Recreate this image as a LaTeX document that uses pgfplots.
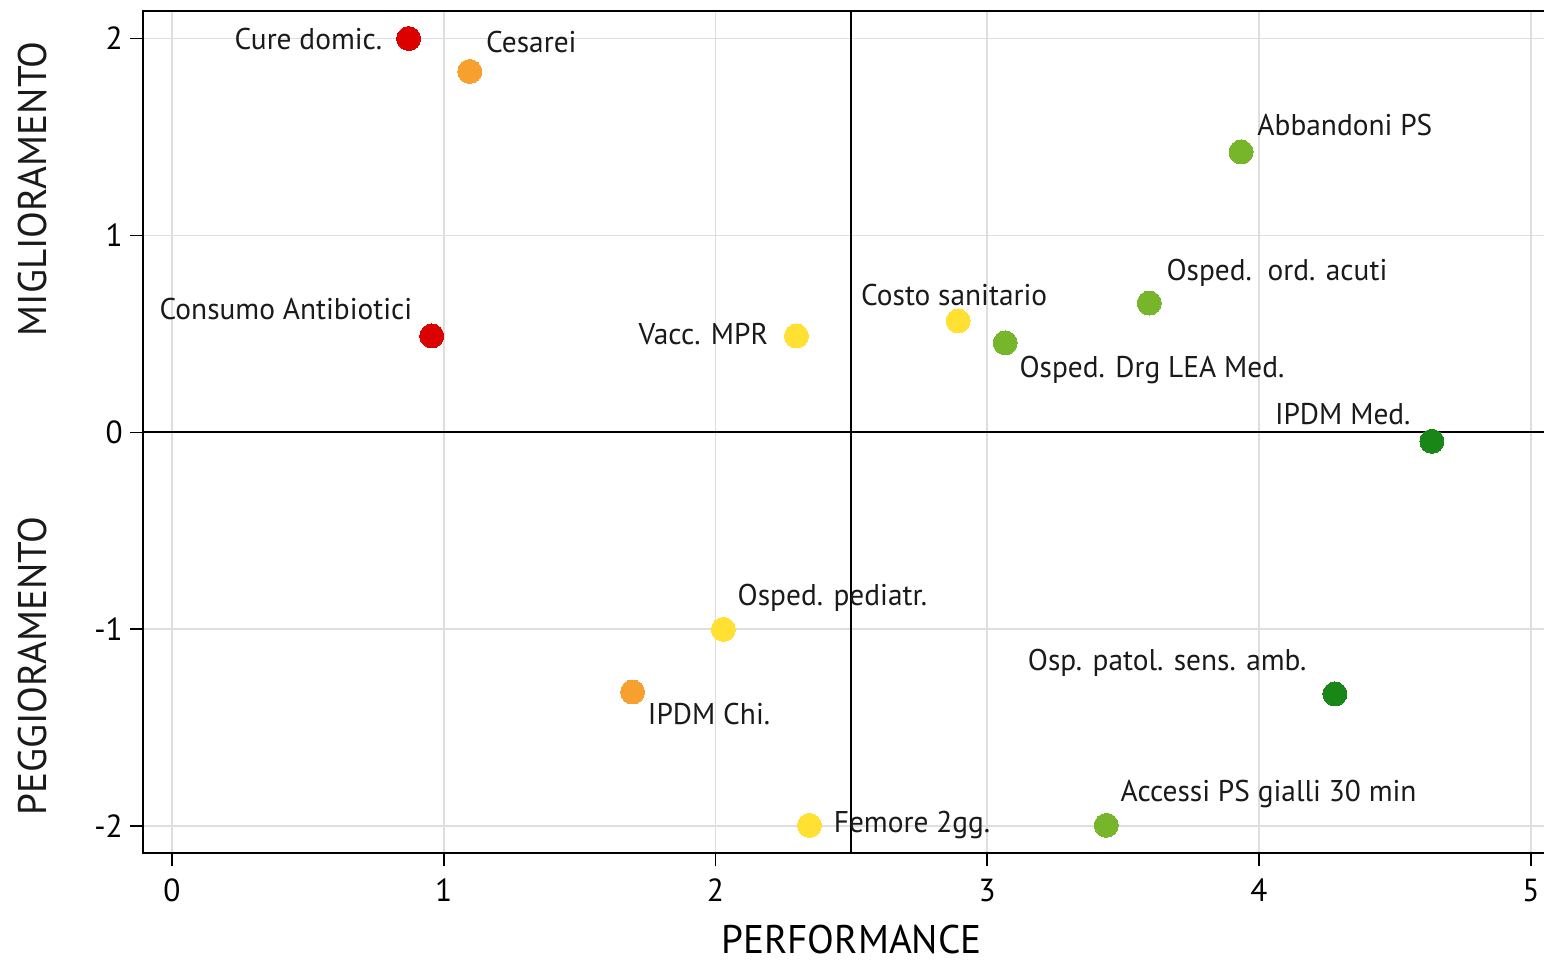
\documentclass[border=0pt]{standalone}
\usepackage{fontspec}
\setmainfont{PT Sans}[FakeStretch=0.98]
\usepackage{pgfplots}
\pgfplotsset{compat=1.18}
\definecolor{cred}{HTML}{DD0000}
\definecolor{corange}{HTML}{F7A030}
\definecolor{cyellow}{HTML}{FFE033}
\definecolor{clgreen}{HTML}{77B52A}
\definecolor{cdgreen}{HTML}{1A8618}
\definecolor{txt}{HTML}{1A1A1A}
\begin{document}
\begin{tikzpicture}
\begin{axis}[
  scale only axis,
  width=701.5pt, height=421.5pt,
  xmin=-0.107, xmax=5.05, ymin=-2.136, ymax=2.14,
  xtick={0,1,2,3,4,5}, ytick={-2,-1,0,1,2},
  grid=major,
  grid style={draw=black!13, line width=0.9pt},
  axis line style={draw=none},
  tick style={black, line width=0.9pt},
  tick align=outside,
  major tick length=6.5pt,
  xtick pos=bottom, ytick pos=left,
  /pgf/number format/assume math mode=true,
  ticklabel style={font=\fontsize{16}{18}\selectfont},
  xticklabel style={yshift=-3pt},
  xlabel={PERFORMANCE},
  xlabel style={font=\fontsize{20}{22}\selectfont, yshift=-4.5pt, xshift=4pt},
  clip=false,
  mkr/.style={only marks, mark=*, mark size=6pt, color=#1, mark options={solid, draw=#1, fill=#1, line width=0pt}},
]
\draw[black, line width=1.2pt] (rel axis cs:1,1) -- (rel axis cs:0,1) -- (rel axis cs:0,0) -- (rel axis cs:1,0);
\draw[black, line width=1pt] (axis cs:2.5,-2.136) -- (axis cs:2.5,2.14);
\draw[black, line width=1pt] (axis cs:-0.107,0) -- (axis cs:5.05,0);
\tikzset{lbl/.style={font=\fontsize{15}{17}\selectfont, text=txt, inner sep=0pt}}
\addplot[mkr=cred] coordinates {(0.871,2.0)} node[lbl, anchor=east, xshift=-13pt] {Cure domic.};
\addplot[mkr=corange] coordinates {(1.096,1.833)} node[lbl, anchor=west, xshift=8pt, yshift=14.5pt] {Cesarei};
\addplot[mkr=clgreen] coordinates {(3.934,1.424)} node[lbl, anchor=west, xshift=8pt, yshift=13.5pt] {Abbandoni PS};
\addplot[mkr=cred] coordinates {(0.956,0.49)} node[lbl, anchor=east, xshift=-9.5pt, yshift=13.5pt] {Consumo Antibiotici};
\addplot[mkr=cyellow] coordinates {(2.298,0.49)} node[lbl, anchor=east, xshift=-14pt, yshift=1pt] {Vacc. MPR};
\addplot[mkr=cyellow] coordinates {(2.893,0.566)} node[lbl, anchor=center, xshift=-2pt, yshift=13pt] {Costo sanitario};
\addplot[mkr=clgreen] coordinates {(3.066,0.455)} node[lbl, anchor=west, xshift=7pt, yshift=-13.5pt] {Osped. Drg LEA Med.};
\addplot[mkr=clgreen] coordinates {(3.596,0.657)} node[lbl, anchor=west, xshift=8.5pt, yshift=15pt] {Osped.\ \ ord. acuti};
\addplot[mkr=cdgreen] coordinates {(4.636,-0.045)} node[lbl, anchor=east, xshift=-10.5pt, yshift=13.5pt] {IPDM Med.};
\addplot[mkr=cyellow] coordinates {(2.029,-1.0)} node[lbl, anchor=west, xshift=7pt, yshift=16pt] {Osped. pediatr.};
\addplot[mkr=corange] coordinates {(1.695,-1.318)} node[lbl, anchor=west, xshift=7.5pt, yshift=-11pt] {IPDM Chi.};
\addplot[mkr=cdgreen] coordinates {(4.279,-1.328)} node[lbl, anchor=east, xshift=-14pt, yshift=15.5pt] {Osp. patol. sens. amb.};
\addplot[mkr=cyellow] coordinates {(2.346,-1.995)} node[lbl, anchor=west, xshift=12pt] {Femore 2gg.};
\addplot[mkr=clgreen] coordinates {(3.438,-1.995)} node[lbl, anchor=west, xshift=7pt, yshift=15.5pt] {Accessi PS gialli 30 min};
\node[rotate=90, font=\fontsize{20}{22}\selectfont, text=txt] at ([xshift=-55pt]axis cs:-0.107,1.237) {MIGLIORAMENTO};
\node[rotate=90, font=\fontsize{20}{22}\selectfont, text=txt] at ([xshift=-55pt]axis cs:-0.107,-1.187) {PEGGIORAMENTO};
\path ([xshift=-71.5pt, yshift=-56pt]rel axis cs:0,0) rectangle ([yshift=5.5pt]rel axis cs:1,1);
\end{axis}
\end{tikzpicture}
\end{document}
